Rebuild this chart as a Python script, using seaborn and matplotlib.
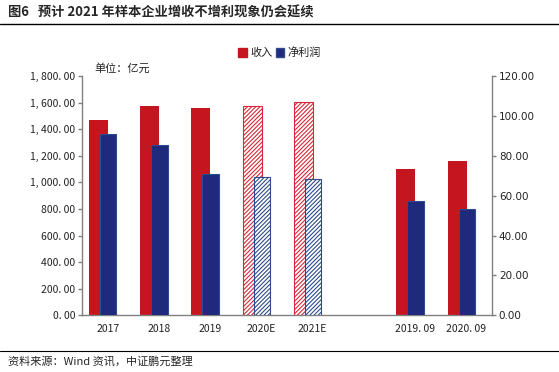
import matplotlib
matplotlib.use("Agg")
import matplotlib.pyplot as plt
import matplotlib.patches as mpatches
import pandas as pd
import seaborn as sns

sns.set_style("white")
plt.rcParams['font.family'] = ['Noto Sans CJK SC', 'DejaVu Sans']
plt.rcParams['hatch.linewidth'] = 0.8

''' DATA
'''
categories = ['2017', '2018', '2019', '2020E', '2021E', ' ', '2019. 09', '2020. 09']
revenue = [1468, 1574, 1559, 1571, 1601, None, 1100, 1160]      # 收入, left axis
profit = [90.7, 85.2, 70.7, 69.2, 68.2, None, 57.1, 53.1]         # 净利润, right axis
forecast = ['2020E', '2021E']
left_ticks = [0, 200, 400, 600, 800, 1000, 1200, 1400, 1600, 1800]
left_labels = ['0. 00', '200. 00', '400. 00', '600. 00', '800. 00', '1, 000. 00',
               '1, 200. 00', '1, 400. 00', '1, 600. 00', '1, 800. 00']
right_ticks = [0, 20, 40, 60, 80, 100, 120]
right_labels = ['0.00', '20.00', '40.00', '60.00', '80.00', '100.00', '120.00']

df = pd.DataFrame({'cat': categories, 'rev': revenue, 'prof': profit})

red = '#C5161F'
navy = '#202A7C'
navy_edge = '#2F4B8C'
gray = '#808080'

''' FIGURE
'''
fig = plt.figure(figsize=(5.59, 3.72), dpi=100)
ax = fig.add_axes([0.1467, 0.1524, 0.7333, 0.6433])
ax2 = ax.twinx()

sns.barplot(data=df, x='cat', y='rev', order=categories, color=red, width=0.37,
            saturation=1, ax=ax, zorder=2)
sns.barplot(data=df, x='cat', y='prof', order=categories, color=navy, width=0.32,
            saturation=1, ax=ax2, zorder=3)

# shift bars so they overlap like the original
for p in ax.patches:
    p.set_x(p.get_x() - 0.18)
    p.set_linewidth(0)
for p in ax2.patches:
    p.set_x(p.get_x() + 0.01)
    p.set_edgecolor(navy_edge)
    p.set_linewidth(0.8)

# forecast bars: hatched
present = [c for c, v in zip(categories, revenue) if v is not None]
for c, p in zip(present, ax.patches):
    if c in forecast:
        p.set_facecolor('white')
        p.set_edgecolor('#D8283A')
        p.set_hatch('////////')
        p.set_linewidth(0.8)
for c, p in zip(present, ax2.patches):
    if c in forecast:
        p.set_facecolor('white')
        p.set_edgecolor(navy_edge)
        p.set_hatch('////////')

ax.set_xlim(-0.5, len(categories) - 0.5)
ax.set_ylim(0, 1800)
ax2.set_ylim(0, 120)

ax.set_yticks(left_ticks)
ax.set_yticklabels(left_labels, fontsize=7.5, color='#222222')
ax2.set_yticks(right_ticks)
ax2.set_yticklabels(right_labels, fontsize=7.5, color='#222222', family=['DejaVu Sans'])
ax.set_xticks(range(len(categories)))
ax.set_xticklabels(categories, fontsize=7.5, color='#222222')
ax.set_xlabel('')
ax.set_ylabel('')
ax2.set_ylabel('')
ax2.set_xlabel('')

for a in (ax, ax2):
    for s in a.spines.values():
        s.set_color(gray)
        s.set_linewidth(1)
    a.spines['top'].set_visible(False)
    a.grid(False)
ax2.spines['left'].set_visible(False)
ax.spines['right'].set_visible(False)
ax2.spines['bottom'].set_visible(False)

ax.tick_params(axis='y', which='both', left=True, length=3, width=1, color=gray, pad=2)
ax.tick_params(axis='x', bottom=False, pad=3)
ax2.tick_params(axis='y', right=True, length=3, width=1, color=gray, pad=2)

ax.text(0.03, 1.01, '单位：亿元', transform=ax.transAxes, fontsize=8, color='#222222',
        va='bottom', ha='left')

handles = [mpatches.Patch(facecolor=red, edgecolor=red, label='收入'),
           mpatches.Patch(facecolor=navy, edgecolor=navy_edge, label='净利润')]
fig.legend(handles=handles, loc='center', bbox_to_anchor=(0.5, 0.858), ncol=2, frameon=False,
           fontsize=8, handlelength=0.8, handleheight=0.8, handletextpad=0.3,
           columnspacing=0.3, labelcolor='#222222')

''' TITLE, RULES AND SOURCE
'''
fig.text(0.014, 0.965, '图6   预计 2021 年样本企业增收不增利现象仍会延续', fontsize=9.5,
         fontweight='bold', va='center', ha='left')
fig.add_artist(plt.Line2D([0, 1], [0.936, 0.936], color='black', lw=1))
fig.add_artist(plt.Line2D([0, 1], [0.056, 0.056], color='black', lw=0.8))
fig.text(0.014, 0.028, '资料来源：Wind 资讯，中证鹏元整理', fontsize=8, va='center', ha='left')

plt.savefig('out.png', dpi=100)
plt.close()
